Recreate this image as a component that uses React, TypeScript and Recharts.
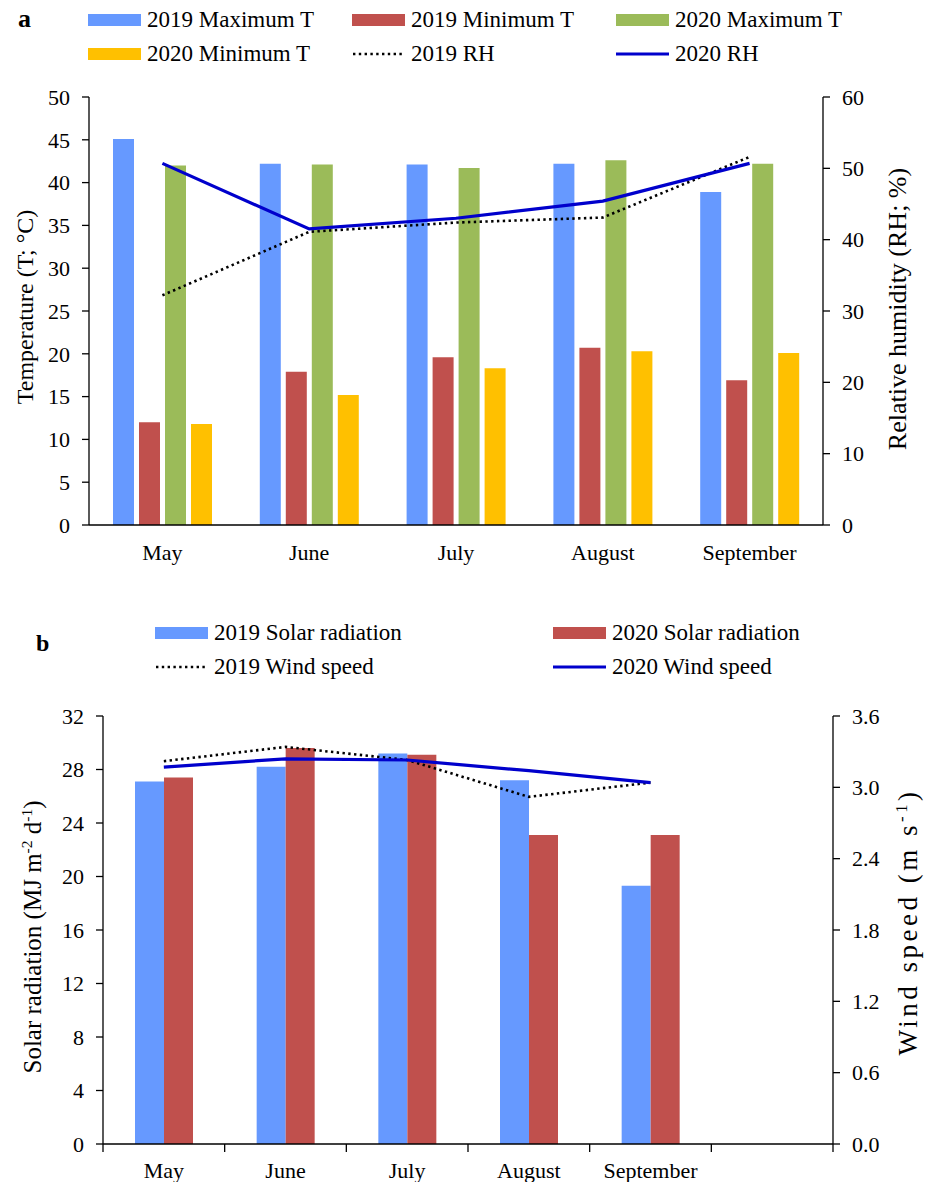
import React from "react";
import { Bar, ComposedChart, Line, XAxis, YAxis } from "recharts";

// panel a
const months = ["May", "June", "July", "August", "September"];
const max2019 = [45.1, 42.2, 42.1, 42.2, 38.9];
const min2019 = [12.0, 17.9, 19.6, 20.7, 16.9];
const max2020 = [42.0, 42.1, 41.7, 42.6, 42.2];
const min2020 = [11.8, 15.2, 18.3, 20.3, 20.1];
const rh2019 = [32.2, 41.1, 42.4, 43.1, 51.6];
const rh2020 = [50.7, 41.5, 43.0, 45.4, 50.7];
const tempTicks = [0, 5, 10, 15, 20, 25, 30, 35, 40, 45, 50];
const rhTicks = [0, 10, 20, 30, 40, 50, 60];

// panel b (last category is empty in the original)
const monthsB = ["May", "June", "July", "August", "September", ""];
const solar2019 = [27.1, 28.2, 29.2, 27.2, 19.3, null];
const solar2020 = [27.4, 29.6, 29.1, 23.1, 23.1, null];
const wind2019 = [3.22, 3.34, 3.23, 2.92, 3.04, null];
const wind2020 = [3.17, 3.24, 3.23, 3.14, 3.04, null];
const solarTicks = [0, 4, 8, 12, 16, 20, 24, 28, 32];
const windTicks = [0, 0.6, 1.2, 1.8, 2.4, 3.0, 3.6];

const dataA = months.map((m, i) => ({
  month: m,
  max2019: max2019[i],
  min2019: min2019[i],
  max2020: max2020[i],
  min2020: min2020[i],
  rh2019: rh2019[i],
  rh2020: rh2020[i],
}));

const dataB = monthsB.map((m, i) => ({
  month: m,
  solar2019: solar2019[i],
  solar2020: solar2020[i],
  wind2019: wind2019[i],
  wind2020: wind2020[i],
}));

const FONT = '"Liberation Serif", "Times New Roman", serif';
const BLUE = "#6699FF";
const RED = "#C0504D";
const GREEN = "#9BBB59";
const YELLOW = "#FFC000";
const LINE_BLUE = "#0000CC";
const tickStyle = { fontSize: 22, fill: "#000", fontFamily: FONT };
const axisLine = { stroke: "#000", strokeWidth: 1.3 };

function LegendEntry({ left, top, kind, color, label }: { left: number; top: number; kind: string; color: string; label: string }) {
  return (
    <div style={{ position: "absolute", left, top: top - 15, height: 30, display: "flex", alignItems: "center", whiteSpace: "nowrap", fontSize: 23 }}>
      {kind === "bar" && <div style={{ width: 53, height: 12, background: color }} />}
      {kind !== "bar" && (
        <svg width={53} height={12}>
          {kind === "dot" ? (
            <line x1={1} x2={53} y1={6} y2={6} stroke={color} strokeWidth={2.6} strokeDasharray="2.4 3.4" />
          ) : (
            <line x1={0} x2={53} y1={6} y2={6} stroke={color} strokeWidth={3.2} />
          )}
        </svg>
      )}
      <span style={{ marginLeft: 6 }}>{label}</span>
    </div>
  );
}

function VTitle({ cx, cy, size, spacing, children }: { cx: number; cy: number; size: number; spacing?: number; children: React.ReactNode }) {
  return (
    <div
      style={{
        position: "absolute",
        left: cx,
        top: cy,
        transform: "translate(-50%, -50%) rotate(-90deg)",
        whiteSpace: "nowrap",
        fontSize: size,
        letterSpacing: spacing || 0,
        lineHeight: 1,
      }}
    >
      {children}
    </div>
  );
}

const BandTick = (props: any) => {
  const { x, y, payload, index, visibleTicksCount } = props;
  const off = payload.offset || 60.8;
  const isLast = index === visibleTicksCount - 1;
  return (
    <g>
      <line x1={x - off} x2={x - off} y1={y - 18} y2={y - 10} stroke="#000" strokeWidth={1.3} />
      {isLast && <line x1={x + off} x2={x + off} y1={y - 18} y2={y - 10} stroke="#000" strokeWidth={1.3} />}
      <text x={x} y={y} dy="0.71em" textAnchor="middle" fontSize={22} fontFamily={FONT} fill="#000">
        {payload.value}
      </text>
    </g>
  );
};

const sup = { fontSize: "0.62em", verticalAlign: "0.55em" } as const;

export default function App() {
  return (
    <div style={{ position: "absolute", left: 0, top: 0, width: 927, height: 1182, background: "#fff", fontFamily: FONT, color: "#000", overflow: "hidden" }}>
      {/* panel a */}
      <div style={{ position: "absolute", left: 18, top: 4, fontSize: 26, fontWeight: "bold" }}>a</div>
      <LegendEntry left={88} top={20} kind="bar" color={BLUE} label="2019 Maximum T" />
      <LegendEntry left={352} top={20} kind="bar" color={RED} label="2019 Minimum T" />
      <LegendEntry left={616} top={20} kind="bar" color={GREEN} label="2020 Maximum T" />
      <LegendEntry left={88} top={54} kind="bar" color={YELLOW} label="2020 Minimum T" />
      <LegendEntry left={352} top={54} kind="dot" color="#000" label="2019 RH" />
      <LegendEntry left={616} top={54} kind="line" color={LINE_BLUE} label="2020 RH" />

      <div style={{ position: "absolute", left: 0, top: 0 }}>
        <ComposedChart width={927} height={590} data={dataA} margin={{ top: 97, right: 0, bottom: 30, left: 0 }} barSize={21} barGap={5}>
          <XAxis dataKey="month" tick={tickStyle} tickLine={false} axisLine={axisLine} tickSize={6} tickMargin={13} height={35} interval={0} />
          <YAxis yAxisId="left" domain={[0, 50]} ticks={tempTicks} width={89} tick={tickStyle} tickLine={axisLine} tickSize={7} tickMargin={12} axisLine={axisLine} />
          <YAxis yAxisId="right" orientation="right" domain={[0, 60]} ticks={rhTicks} width={104} tick={tickStyle} tickLine={axisLine} tickSize={7} tickMargin={12} axisLine={axisLine} />
          <Bar yAxisId="left" dataKey="max2019" fill={BLUE} isAnimationActive={false} />
          <Bar yAxisId="left" dataKey="min2019" fill={RED} isAnimationActive={false} />
          <Bar yAxisId="left" dataKey="max2020" fill={GREEN} isAnimationActive={false} />
          <Bar yAxisId="left" dataKey="min2020" fill={YELLOW} isAnimationActive={false} />
          <Line yAxisId="right" dataKey="rh2019" stroke="#000" strokeWidth={2.6} strokeDasharray="2.4 3.4" dot={false} isAnimationActive={false} />
          <Line yAxisId="right" dataKey="rh2020" stroke={LINE_BLUE} strokeWidth={3.2} dot={false} isAnimationActive={false} />
        </ComposedChart>
      </div>
      <VTitle cx={25} cy={307} size={24}>Temperature (T; °C)</VTitle>
      <VTitle cx={898} cy={309} size={26}>Relative humidity (RH; %)</VTitle>

      {/* panel b */}
      <div style={{ position: "absolute", left: 36, top: 630, fontSize: 24, fontWeight: "bold" }}>b</div>
      <LegendEntry left={155} top={633} kind="bar" color={BLUE} label="2019 Solar radiation" />
      <LegendEntry left={553} top={633} kind="bar" color={RED} label="2020 Solar radiation" />
      <LegendEntry left={155} top={667} kind="dot" color="#000" label="2019 Wind speed" />
      <LegendEntry left={553} top={667} kind="line" color={LINE_BLUE} label="2020 Wind speed" />

      <div style={{ position: "absolute", left: 0, top: 600 }}>
        <ComposedChart width={927} height={582} data={dataB} margin={{ top: 116, right: 0, bottom: 0, left: 0 }} barSize={29} barGap={0}>
          <XAxis dataKey="month" tick={<BandTick />} tickLine={false} axisLine={axisLine} tickSize={8} tickMargin={10} height={38} interval={0} />
          <YAxis yAxisId="left" domain={[0, 32]} ticks={solarTicks} width={103} tick={tickStyle} tickLine={axisLine} tickSize={7} tickMargin={12} axisLine={axisLine} />
          <YAxis
            yAxisId="right"
            orientation="right"
            domain={[0, 3.6]}
            ticks={windTicks}
            tickFormatter={(v: number) => v.toFixed(1)}
            width={94}
            tick={tickStyle}
            tickLine={axisLine}
            tickSize={7}
            tickMargin={12}
            axisLine={axisLine}
          />
          <Bar yAxisId="left" dataKey="solar2019" fill={BLUE} isAnimationActive={false} />
          <Bar yAxisId="left" dataKey="solar2020" fill={RED} isAnimationActive={false} />
          <Line yAxisId="right" dataKey="wind2019" stroke="#000" strokeWidth={2.6} strokeDasharray="2.4 3.4" dot={false} isAnimationActive={false} />
          <Line yAxisId="right" dataKey="wind2020" stroke={LINE_BLUE} strokeWidth={3.2} dot={false} isAnimationActive={false} />
        </ComposedChart>
      </div>
      <VTitle cx={32} cy={937} size={25}>
        Solar radiation (MJ m<span style={sup}>-2</span> d<span style={sup}>-1</span>)
      </VTitle>
      <VTitle cx={908} cy={922} size={27} spacing={3.5}>
        Wind speed (m s<span style={sup}>-1</span>)
      </VTitle>
    </div>
  );
}
